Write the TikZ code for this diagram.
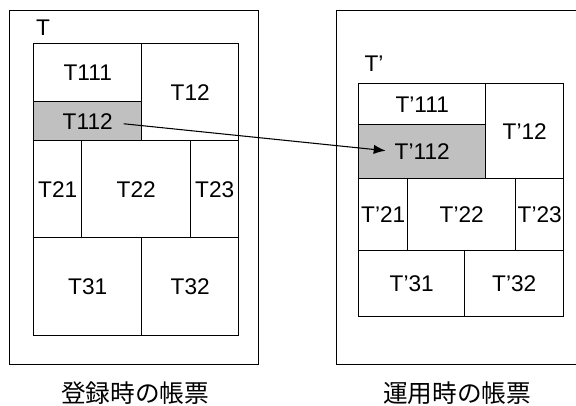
\documentclass[tikz,border=0pt]{standalone}
\usepackage{fontspec}
\setmainfont{Liberation Sans}
\newfontfamily\cjk{Noto Sans CJK JP}
\usetikzlibrary{arrows.meta}
\definecolor{cellgray}{RGB}{192,192,192}
\tikzset{
  formframe/.style={draw=black, line width=1.1pt},
  cellbox/.style={draw=black, line width=1.1pt, inner sep=0pt, anchor=north west,
    font=\fontsize{17}{20}\selectfont},
  lbltxt/.style={inner sep=0pt, font=\fontsize{17}{20}\selectfont},
  captxt/.style={inner sep=0pt, anchor=base, font=\cjk\fontsize{18.5}{22}\selectfont},
  connarrow/.style={draw=black, line width=0.8pt, -{Latex[length=9pt,width=7pt]}}
}
\newcommand{\cellat}[6]{% name, x1, y1, x2, y2, text
  \node[cellbox, minimum width={(#4-#2)*0.75pt}, minimum height={(#5-#3)*0.75pt}] (#1) at (#2,#3) {#6};}
\begin{document}
\begin{tikzpicture}[x=0.75pt,y=-0.75pt]
\clip (0,0) rectangle (576,405);
% left form
\node[formframe, inner sep=0pt, anchor=north west, minimum width={249*0.75pt}, minimum height={354*0.75pt}] (outerL) at (9,10) {};
\node[lbltxt] (lblT) at (43,28) {T};
\cellat{c111}{33}{43}{141}{101}{T111}
\node[cellbox, fill=cellgray, minimum width={108*0.75pt}, minimum height={39*0.75pt}] (c112) at (33,101) {T112};
\cellat{c12}{141}{43}{238}{140}{T12}
\cellat{c21}{33}{140}{81}{237}{T21}
\cellat{c22}{81}{140}{190}{237}{T22}
\cellat{c23}{190}{140}{238}{237}{T23}
\cellat{c31}{33}{237}{141}{335}{T31}
\cellat{c32}{141}{237}{238}{335}{T32}
% right form
\node[formframe, inner sep=0pt, anchor=north west, minimum width={250*0.75pt}, minimum height={354*0.75pt}] (outerR) at (336,10) {};
\node[lbltxt] (lblTp) at (374,64) {T’};
\cellat{d111}{358}{83}{485}{124}{T’111}
\node[cellbox, fill=cellgray, minimum width={127*0.75pt}, minimum height={54*0.75pt}] (d112) at (358,124) {T’112};
\cellat{d12}{485}{83}{563}{178}{T’12}
\cellat{d21}{358}{178}{407}{250}{T’21}
\cellat{d22}{407}{178}{515}{250}{T’22}
\cellat{d23}{515}{178}{563}{250}{T’23}
\cellat{d31}{358}{250}{464}{316}{T’31}
\cellat{d32}{464}{250}{563}{316}{T’32}
% arrow
\draw[connarrow] ([xshift=27pt,yshift=-1.9pt]c112.center) -- ([xshift=-27.4pt,yshift=0.8pt]d112.center);
% captions
\node[captxt] (capL) at (135,402) {登録時の帳票};
\node[captxt] (capR) at (457,402) {運用時の帳票};
\end{tikzpicture}
\end{document}
